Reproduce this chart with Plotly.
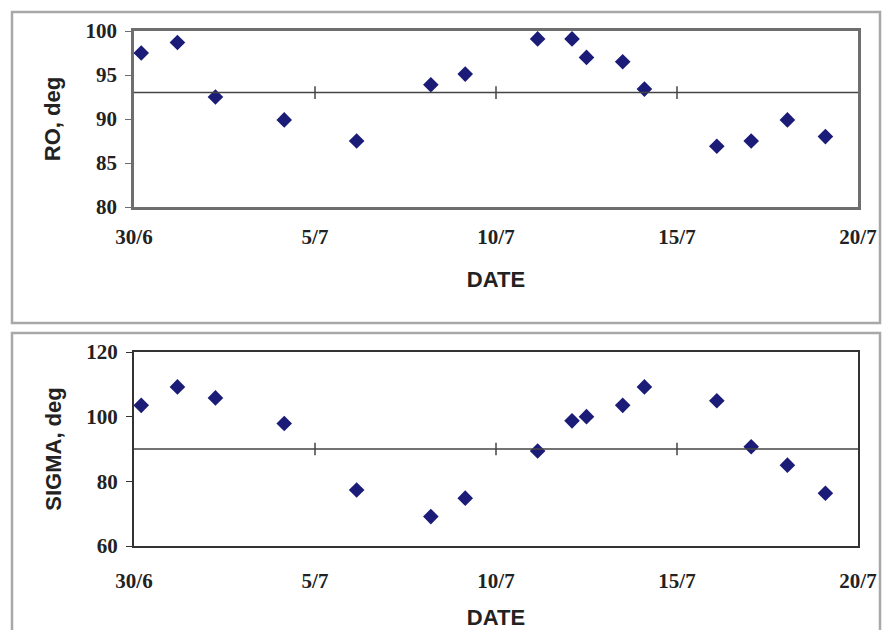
import plotly.graph_objects as go

# ---- data ----
date_ticks = [0, 5, 10, 15, 20]                  # days since 30/6
date_labels = ["30/6", "5/7", "10/7", "15/7", "20/7"]
obs_day = [0.2, 1.2, 2.25, 4.15, 6.15, 8.2, 9.15, 11.15, 12.1, 12.5,
           13.5, 14.1, 16.1, 17.05, 18.05, 19.1]
ro = [97.5, 98.7, 92.5, 89.9, 87.5, 93.9, 95.1, 99.1, 99.1, 97.0,
      96.5, 93.4, 86.9, 87.5, 89.9, 88.0]
sigma = [103.5, 109.2, 105.8, 97.9, 77.3, 69.1, 74.8, 89.4, 98.7, 100.0,
         103.5, 109.2, 104.9, 90.7, 85.0, 76.3]
ro_cross = 93      # value where the date axis crosses (top)
sigma_cross = 90   # value where the date axis crosses (bottom)
inner_ticks = [5, 10, 15]

W, H = 882, 630
MARK = "#1b1b78"
TICKFONT = dict(family="Liberation Serif", size=21, color="#222222", weight="bold")
TITLEFONT = dict(family="Liberation Sans", size=22, color="#222222", weight="bold")

fig = go.Figure()

def add_panel(xa, ya, yvals, cross):
    fig.add_trace(go.Scatter(x=obs_day, y=yvals, mode="markers", xaxis=xa, yaxis=ya,
                             marker=dict(symbol="diamond", size=12, color=MARK),
                             showlegend=False, hoverinfo="x+y"))
    # crossing axis line
    fig.add_trace(go.Scatter(x=[date_ticks[0], date_ticks[-1]], y=[cross, cross], mode="lines",
                             xaxis=xa, yaxis=ya, line=dict(color="#444444", width=1.5),
                             showlegend=False, hoverinfo="skip"))
    fig.add_trace(go.Scatter(x=inner_ticks, y=[cross] * len(inner_ticks), mode="markers",
                             xaxis=xa, yaxis=ya,
                             marker=dict(symbol="line-ns", size=9,
                                         line=dict(color="#444444", width=1.5)),
                             showlegend=False, hoverinfo="skip"))

add_panel("x", "y", ro, ro_cross)
add_panel("x2", "y2", sigma, sigma_cross)

xl, xr = 134 / W, 858 / W
common_x = dict(range=[date_ticks[0], date_ticks[-1]], tickvals=date_ticks, ticktext=date_labels,
                ticks="", showgrid=False, zeroline=False, tickfont=TICKFONT, automargin=False,
                mirror=True, showline=True)
common_y = dict(ticks="outside", ticklen=6, showgrid=False, zeroline=False, automargin=False,
                tickfont=TICKFONT, mirror=True, showline=True, ticklabelstandoff=4)

fig.update_layout(
    width=W, height=H, margin=dict(l=0, r=0, t=0, b=0),
    paper_bgcolor="white", plot_bgcolor="white",
    xaxis=dict(domain=[xl, xr], anchor="y", linecolor="#6e6e6e", linewidth=2.5,
               ticklabelstandoff=9, title=dict(text="DATE", font=TITLEFONT, standoff=24),
               **common_x),
    yaxis=dict(domain=[1 - 207 / H, 1 - 31 / H], anchor="x", range=[80, 100], dtick=5,
               linecolor="#6e6e6e", linewidth=2.5, tickcolor="#6e6e6e",
               title=dict(text="RO, deg", font=TITLEFONT, standoff=19), **common_y),
    xaxis2=dict(domain=[xl, xr], anchor="y2", linecolor="#333333", linewidth=2,
                ticklabelstandoff=15, title=dict(text="DATE", font=TITLEFONT, standoff=21),
                **common_x),
    yaxis2=dict(domain=[1 - 546 / H, 1 - 352 / H], anchor="x2", range=[60, 120], dtick=20,
                linecolor="#333333", linewidth=2, tickcolor="#333333",
                title=dict(text="SIGMA, deg", font=TITLEFONT, standoff=19), **common_y),
    shapes=[
        dict(type="rect", xref="paper", yref="paper", x0=12 / W, x1=880 / W,
             y0=1 - 323 / H, y1=1 - 12 / H, line=dict(color="#a8a8a8", width=2.5), layer="below"),
        dict(type="rect", xref="paper", yref="paper", x0=12 / W, x1=880 / W,
             y0=-0.02, y1=1 - 333 / H, line=dict(color="#a8a8a8", width=2.5), layer="below"),
    ],
)

fig.write_html("out.html")
